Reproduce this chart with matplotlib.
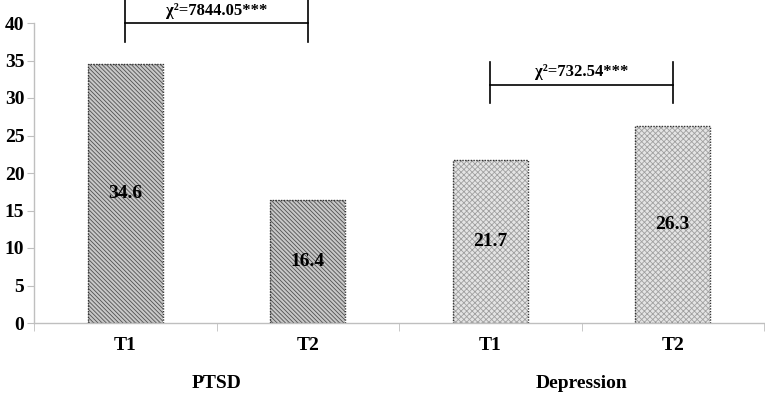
import matplotlib.pyplot as plt
import numpy as np

groups = ["PTSD", "Depression"]
times = ["T1", "T2", "T1", "T2"]
values = [34.6, 16.4, 21.7, 26.3]
chi_labels = ["χ²=7844.05***", "χ²=732.54***"]

plt.rcParams["font.family"] = ["Liberation Serif", "DejaVu Serif"]
plt.rcParams["font.weight"] = "bold"
plt.rcParams["hatch.linewidth"] = 0.6

fig = plt.figure(figsize=(7.65, 3.96), dpi=100)
ax = fig.add_axes([34 / 765, 73 / 396, 730 / 765, 300 / 396])

x = np.arange(len(values))
hatches = ["\\\\\\\\\\\\\\\\", "\\\\\\\\\\\\\\\\", "xxxxxx", "xxxxxx"]
faces = ["#c8c8c8", "#c8c8c8", "#e4e4e4", "#e4e4e4"]
hcols = ["#505050", "#505050", "#a0a0a0", "#a0a0a0"]
for i, v in enumerate(values):
    ax.bar(x[i], v, width=0.41, color=faces[i], hatch=hatches[i],
           edgecolor=hcols[i], linewidth=0)
    ax.bar(x[i], v, width=0.41, fill=False, edgecolor="#333333",
           linewidth=1.0, linestyle=(0, (1, 1)))
    ax.text(x[i], v / 2, f"{v:.1f}", ha="center", va="center",
            fontsize=14, fontweight="bold")

ax.set_xlim(-0.5, 3.5)
ax.set_ylim(0, 40)
ax.set_yticks(range(0, 41, 5))
ax.set_xticks(x)
ax.set_xticklabels(times, fontsize=14, fontweight="bold")
ax.tick_params(axis="x", length=0, pad=10)
ax.tick_params(axis="y", labelsize=14, length=5, color="#bfbfbf", pad=2)
for t in ax.get_yticklabels():
    t.set_fontweight("bold")
ax.set_xticks([-0.5, 0.5, 1.5, 2.5, 3.5], minor=True)
ax.tick_params(axis="x", which="minor", length=6, color="#bfbfbf")

for s in ["top", "right"]:
    ax.spines[s].set_visible(False)
for s in ["left", "bottom"]:
    ax.spines[s].set_color("#bfbfbf")
    ax.spines[s].set_linewidth(1.0)

for gi, g in enumerate(groups):
    ax.text(gi * 2 + 0.5, -8.0, g, ha="center", va="center",
            fontsize=14, fontweight="bold")

brackets = [(0, 1, 40.0, 43.1, 37.5, 41.6), (2, 3, 31.8, 34.8, 29.3, 33.4)]
for (a, b, yh, ytop, ybot, yt), lab in zip(brackets, chi_labels):
    ax.plot([a, b], [yh, yh], color="black", lw=1.2, clip_on=False)
    ax.plot([a, a], [ybot, ytop], color="black", lw=1.2, clip_on=False)
    ax.plot([b, b], [ybot, ytop], color="black", lw=1.2, clip_on=False)
    ax.text((a + b) / 2, yt, lab, ha="center", va="center",
            fontsize=12, fontweight="bold", clip_on=False)

fig.savefig("out.png", dpi=100)
